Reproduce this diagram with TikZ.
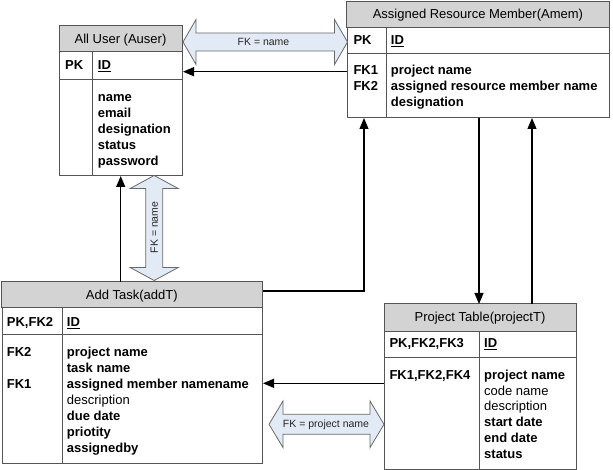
\documentclass[tikz,border=0pt]{standalone}
\usepackage{fontspec}
\setmainfont{Liberation Sans}
\usetikzlibrary{arrows.meta,calc}
\definecolor{hdr}{RGB}{211,211,211}
\definecolor{bd}{RGB}{85,85,85}
\definecolor{arrfill}{RGB}{226,234,246}
\definecolor{arrline}{RGB}{105,105,105}
\tikzset{
 x=1pt,y=-1pt,
 tbl/.style={draw=bd, line width=1pt, fill=white, inner sep=0pt, anchor=north west, minimum width=#1},
 hdrrow/.style={draw=bd, line width=1pt, fill=hdr},
 bdline/.style={draw=bd, line width=1pt},
 ttl/.style={font=\fontsize{13}{16}\selectfont, inner sep=0pt, anchor=base},
 fld/.style={font=\fontsize{13}{16}\selectfont\bfseries, inner sep=0pt, anchor=base west},
 fldr/.style={font=\fontsize{13}{16}\selectfont, inner sep=0pt, anchor=base west},
 conn/.style={draw=black, line width=1.2pt, -{Triangle[length=11pt,width=9pt]}},
 fkarrow/.style={draw=arrline, fill=arrfill, line width=0.8pt, line join=miter},
 fklab/.style={font=\fontsize{10.5}{12}\selectfont, inner sep=0pt, text=black!85},
}
\begin{document}
\begin{tikzpicture}
\useasboundingbox (0,0) rectangle (613,470);

% ---------- All User (Auser) ----------
\node[tbl=123pt, minimum height=149pt] (auser) at (59,26) {};
\draw[hdrrow] (59,26) rectangle (182,52);
\draw[bdline] (59,80) -- (182,80);
\draw[bdline] (92.7,52) -- (92.7,175);
\node[ttl] (auserT) at (120.5,44) {All User (Auser)};
\node[fld] (auserPK) at (65,70) {PK};
\node[fld] (auserID) at (97.7,70) {\underline{ID}};
\node[fld] (auser1) at (97.7,102) {name};
\node[fld] (auser2) at (97.7,118) {email};
\node[fld] (auser3) at (97.7,134) {designation};
\node[fld] (auser4) at (97.7,150) {status};
\node[fld] (auser5) at (97.7,166) {password};

% ---------- Assigned Resource Member (Amem) ----------
\node[tbl=262.3pt, minimum height=115pt] (amem) at (346.7,2) {};
\draw[hdrrow] (346.7,2) rectangle (609,28);
\draw[bdline] (346.7,54) -- (609,54);
\draw[bdline] (386,28) -- (386,117);
\node[ttl] (amemT) at (477.9,18.5) {Assigned Resource Member(Amem)};
\node[fld] (amemPK) at (353.3,45) {PK};
\node[fld] (amemID) at (390.7,45) {\underline{ID}};
\node[fld] (amemK1) at (353.3,75) {FK1};
\node[fld] (amemK2) at (353.3,91) {FK2};
\node[fld] (amem1) at (390.7,75) {project name};
\node[fld] (amem2) at (390.7,91) {assigned resource member name};
\node[fld] (amem3) at (390.7,107) {designation};

% ---------- Add Task (addT) ----------
\node[tbl=260.3pt, minimum height=181pt] (addt) at (1.7,282) {};
\draw[hdrrow] (1.7,282) rectangle (262,308);
\draw[bdline] (1.7,334) -- (262,334);
\draw[bdline] (62,308) -- (62,463);
\node[ttl] (addtT) at (131.8,299.5) {Add Task(addT)};
\node[fld] (addtPK) at (6.7,326.7) {PK,FK2};
\node[fld] (addtID) at (66.7,326.7) {\underline{ID}};
\node[fld] (addtK2) at (6.7,356.7) {FK2};
\node[fld] (addtK1) at (6.7,388.7) {FK1};
\node[fld] (addt1) at (66.7,356.7) {project name};
\node[fld] (addt2) at (66.7,372.7) {task name};
\node[fld] (addt3) at (66.7,388.7) {assigned member namename};
\node[fldr] (addt4) at (66.7,404.7) {description};
\node[fld] (addt5) at (66.7,420.7) {due date};
\node[fld] (addt6) at (66.7,436.7) {priotity};
\node[fld] (addt7) at (66.7,452.7) {assignedby};

% ---------- Project Table (projectT) ----------
\node[tbl=192pt, minimum height=165pt] (projt) at (384,304) {};
\draw[hdrrow] (384,304) rectangle (576,331);
\draw[bdline] (384,357) -- (576,357);
\draw[bdline] (479,331) -- (479,469);
\node[ttl] (projtT) at (480,321) {Project Table(projectT)};
\node[fld] (projtPK) at (389.3,347.7) {PK,FK2,FK3};
\node[fld] (projtID) at (484,347.7) {\underline{ID}};
\node[fld] (projtK) at (389.3,379.3) {FK1,FK2,FK4};
\node[fld] (projt1) at (484,379.3) {project name};
\node[fldr] (projt2) at (484,395.1) {code name};
\node[fldr] (projt3) at (484,410.9) {description};
\node[fld] (projt4) at (484,426.7) {start date};
\node[fld] (projt5) at (484,442.5) {end date};
\node[fld] (projt6) at (484,458.3) {status};

% ---------- FK double arrows ----------
\draw[fkarrow] (183,42) -- (196,19.5) -- (196,33) -- (334.5,33) -- (334.5,19.5) -- (347.5,42)
  -- (334.5,64.5) -- (334.5,51) -- (196,51) -- (196,64.5) -- cycle;
\node[fklab] (fk1) at (263.5,42) {FK = name};

\draw[fkarrow] (154.2,175.5) -- (178.2,188.5) -- (162.7,188.5) -- (162.7,267.5) -- (178.2,267.5)
  -- (154.2,280.5) -- (130.2,267.5) -- (145.7,267.5) -- (145.7,188.5) -- (130.2,188.5) -- cycle;
\node[fklab, rotate=90] (fk2) at (154.2,227.5) {FK = name};

\draw[fkarrow] (269,424.3) -- (283,401) -- (283,414.3) -- (370,414.3) -- (370,401) -- (384,424.3)
  -- (370,447.6) -- (370,434.3) -- (283,434.3) -- (283,447.6) -- cycle;
\node[fklab] (fk3) at (326,424.3) {FK = project name};

% ---------- connectors ----------
\coordinate (r1) at (0,71.7);
\coordinate (r2) at (120.7,0);
\coordinate (r3) at (0,291);
\coordinate (r3b) at (364,0);
\coordinate (r4) at (479,0);
\coordinate (r5) at (532,0);
\coordinate (r6) at (0,383.3);
\draw[conn] (amem.west |- r1) -- (auser.east |- r1);
\draw[conn] (addt.north -| r2) -- (auser.south -| r2);
\draw[conn] (addt.east |- r3) -- (r3b |- r3) -- (amem.south -| r3b);
\draw[conn] (amem.south -| r4) -- (projt.north -| r4);
\draw[conn] (projt.north -| r5) -- (amem.south -| r5);
\draw[conn] (projt.west |- r6) -- (addt.east |- r6);
\end{tikzpicture}
\end{document}
